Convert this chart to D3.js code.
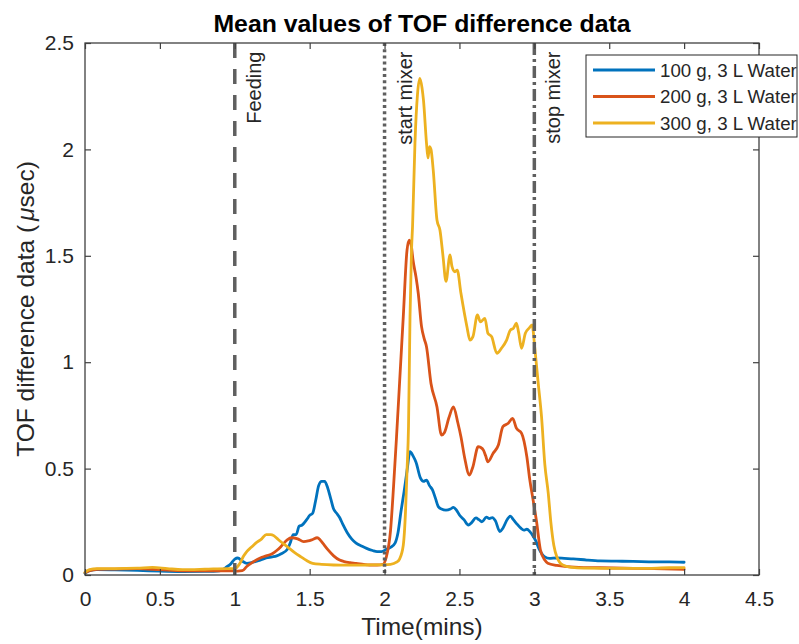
<!DOCTYPE html>
<html>
<head>
<meta charset="utf-8">
<script src="https://cdn.jsdelivr.net/npm/d3@7"></script>
<style>
  html, body { margin: 0; padding: 0; background: #fff; }
  svg { display: block; font-family: "Liberation Sans", Arial, Helvetica, sans-serif; }
</style>
</head>
<body>
<svg id="chart" width="799" height="644"></svg>
<script>
// Time (min) / mean TOF difference (µsec) pairs for each run
const run100 = [[0,0.008],[0.03,0.02],[0.08,0.025],[0.2,0.024],[0.35,0.022],[0.5,0.018],[0.65,0.016],[0.8,0.017],[0.9,0.02],[0.95,0.04],[0.97,0.05],[1.0,0.075],[1.02,0.08],[1.05,0.065],[1.08,0.055],[1.12,0.06],[1.17,0.07],[1.21,0.08],[1.25,0.085],[1.28,0.09],[1.31,0.1],[1.35,0.12],[1.37,0.15],[1.39,0.19],[1.41,0.19],[1.43,0.23],[1.45,0.235],[1.48,0.26],[1.50,0.28],[1.52,0.29],[1.54,0.35],[1.56,0.42],[1.58,0.44],[1.60,0.44],[1.62,0.41],[1.64,0.36],[1.66,0.31],[1.68,0.29],[1.70,0.27],[1.72,0.24],[1.75,0.2],[1.78,0.17],[1.81,0.15],[1.85,0.135],[1.88,0.125],[1.92,0.115],[1.95,0.11],[1.98,0.11],[2.01,0.12],[2.04,0.13],[2.07,0.15],[2.09,0.2],[2.11,0.3],[2.13,0.39],[2.15,0.49],[2.17,0.58],[2.19,0.56],[2.21,0.53],[2.24,0.455],[2.26,0.44],[2.28,0.446],[2.30,0.42],[2.32,0.4],[2.34,0.36],[2.36,0.32],[2.38,0.31],[2.41,0.305],[2.44,0.31],[2.46,0.318],[2.48,0.305],[2.50,0.282],[2.53,0.26],[2.56,0.235],[2.58,0.245],[2.61,0.268],[2.63,0.26],[2.65,0.25],[2.68,0.272],[2.70,0.265],[2.72,0.27],[2.74,0.255],[2.77,0.204],[2.79,0.22],[2.82,0.262],[2.84,0.277],[2.86,0.26],[2.88,0.243],[2.91,0.22],[2.93,0.211],[2.95,0.215],[2.97,0.204],[2.99,0.185],[3.01,0.16],[3.03,0.125],[3.05,0.1],[3.07,0.085],[3.10,0.078],[3.15,0.08],[3.2,0.078],[3.26,0.076],[3.35,0.07],[3.44,0.066],[3.55,0.065],[3.66,0.064],[3.8,0.062],[3.9,0.062],[4.0,0.06]];

const run200 = [[0,0.01],[0.03,0.02],[0.08,0.027],[0.2,0.028],[0.35,0.03],[0.5,0.025],[0.65,0.02],[0.8,0.02],[0.95,0.02],[1.02,0.018],[1.05,0.02],[1.08,0.04],[1.12,0.06],[1.17,0.08],[1.21,0.09],[1.25,0.1],[1.28,0.115],[1.31,0.135],[1.35,0.165],[1.38,0.175],[1.42,0.17],[1.46,0.157],[1.49,0.16],[1.52,0.167],[1.55,0.175],[1.57,0.165],[1.59,0.147],[1.62,0.12],[1.66,0.09],[1.70,0.07],[1.73,0.063],[1.77,0.058],[1.81,0.055],[1.86,0.05],[1.90,0.047],[1.95,0.047],[1.99,0.05],[2.01,0.08],[2.04,0.21],[2.06,0.415],[2.08,0.65],[2.10,0.9],[2.125,1.214],[2.15,1.527],[2.165,1.574],[2.18,1.54],[2.19,1.48],[2.21,1.4],[2.225,1.324],[2.247,1.167],[2.265,1.11],[2.28,1.073],[2.31,0.90],[2.35,0.79],[2.38,0.658],[2.40,0.67],[2.43,0.74],[2.46,0.79],[2.49,0.713],[2.51,0.65],[2.535,0.55],[2.566,0.47],[2.59,0.509],[2.625,0.603],[2.64,0.6],[2.66,0.587],[2.675,0.56],[2.69,0.532],[2.725,0.572],[2.76,0.611],[2.79,0.697],[2.826,0.713],[2.855,0.736],[2.88,0.69],[2.915,0.666],[2.95,0.556],[2.97,0.446],[2.99,0.36],[3.015,0.25],[3.04,0.12],[3.07,0.07],[3.09,0.055],[3.15,0.045],[3.22,0.039],[3.33,0.035],[3.44,0.034],[3.6,0.032],[3.8,0.03],[4.0,0.027]];

const run300 = [[0,0.012],[0.03,0.025],[0.08,0.03],[0.2,0.03],[0.35,0.032],[0.45,0.036],[0.55,0.03],[0.65,0.025],[0.8,0.027],[0.95,0.03],[1.0,0.03],[1.03,0.05],[1.06,0.09],[1.08,0.11],[1.11,0.13],[1.14,0.15],[1.18,0.17],[1.21,0.19],[1.24,0.19],[1.26,0.185],[1.28,0.173],[1.31,0.155],[1.35,0.133],[1.40,0.105],[1.44,0.086],[1.48,0.068],[1.52,0.055],[1.58,0.05],[1.66,0.047],[1.75,0.046],[1.88,0.047],[1.98,0.048],[2.04,0.05],[2.08,0.06],[2.10,0.075],[2.125,0.14],[2.14,0.3],[2.15,0.49],[2.16,0.7],[2.17,1.214],[2.18,1.527],[2.187,1.64],[2.203,2.03],[2.22,2.26],[2.236,2.334],[2.25,2.29],[2.26,2.23],[2.28,2.03],[2.29,1.96],[2.30,2.013],[2.31,2.0],[2.325,1.903],[2.35,1.668],[2.37,1.62],[2.39,1.5],[2.41,1.38],[2.437,1.504],[2.45,1.45],[2.47,1.425],[2.485,1.433],[2.51,1.324],[2.55,1.167],[2.57,1.104],[2.59,1.12],[2.62,1.222],[2.64,1.19],[2.67,1.206],[2.69,1.136],[2.715,1.12],[2.75,1.042],[2.78,1.065],[2.815,1.104],[2.84,1.151],[2.86,1.159],[2.88,1.183],[2.895,1.14],[2.915,1.065],[2.94,1.136],[2.965,1.16],[2.985,1.175],[3.004,1.06],[3.026,0.90],[3.048,0.744],[3.07,0.52],[3.093,0.384],[3.11,0.25],[3.13,0.14],[3.15,0.086],[3.19,0.047],[3.25,0.036],[3.33,0.032],[3.5,0.031],[3.7,0.031],[3.9,0.034],[4.0,0.035]];

const seriesNames = ["100 g, 3 L Water", "200 g, 3 L Water", "300 g, 3 L Water"];
const seriesColors = ["#0072BD", "#D95319", "#EDB120"];

// Process events (time in min)
const events = [
  { t: 1, label: "Feeding", dash: "15,11", offset: 26 },
  { t: 2, label: "start mixer", dash: "3,3.2", offset: 27 },
  { t: 3, label: "stop mixer", dash: "12,4,3,4", offset: 26 }
];

const xTicks = [0, 0.5, 1, 1.5, 2, 2.5, 3, 3.5, 4, 4.5];
const yTicks = [0, 0.5, 1, 1.5, 2, 2.5];

const svg = d3.select("#chart");
const plot = { left: 85, top: 43, right: 759, bottom: 575 };

const x = d3.scaleLinear().domain([0, 4.5]).range([plot.left, plot.right]);
const y = d3.scaleLinear().domain([0, 2.5]).range([plot.bottom, plot.top]);

const axisColor = "#404040";
const textColor = "#262626";
const fmt = d => String(d);

// Data curves
const line = d3.line()
  .x(d => x(d[0]))
  .y(d => y(d[1]))
  .curve(d3.curveMonotoneX);

[run100, run200, run300].forEach((run, i) => {
  svg.append("path")
    .datum(run)
    .attr("d", line)
    .attr("fill", "none")
    .attr("stroke", seriesColors[i])
    .attr("stroke-width", 2.8)
    .attr("stroke-linejoin", "round")
    .attr("stroke-linecap", "round");
});

// Event markers and their rotated labels
events.forEach(ev => {
  svg.append("line")
    .attr("x1", x(ev.t)).attr("x2", x(ev.t))
    .attr("y1", y(2.5)).attr("y2", y(0))
    .attr("stroke", "#5f5f5f")
    .attr("stroke-width", 3.5)
    .attr("stroke-dasharray", ev.dash);
  svg.append("text")
    .attr("transform", `translate(${x(ev.t) + ev.offset},${y(2.46)}) rotate(-90)`)
    .attr("text-anchor", "end")
    .attr("font-size", 20)
    .attr("fill", textColor)
    .text(ev.label);
});

// Axes box with inward ticks
const gx = svg.append("g")
  .attr("transform", `translate(0,${plot.bottom})`)
  .call(d3.axisBottom(x).tickValues(xTicks).tickFormat(fmt).tickSizeInner(-6).tickSizeOuter(0).tickPadding(16));
const gxTop = svg.append("g")
  .attr("transform", `translate(0,${plot.top})`)
  .call(d3.axisTop(x).tickValues(xTicks).tickFormat("").tickSizeInner(-6).tickSizeOuter(0));
const gy = svg.append("g")
  .attr("transform", `translate(${plot.left},0)`)
  .call(d3.axisLeft(y).tickValues(yTicks).tickFormat(fmt).tickSizeInner(-6).tickSizeOuter(0).tickPadding(11));
const gyRight = svg.append("g")
  .attr("transform", `translate(${plot.right},0)`)
  .call(d3.axisRight(y).tickValues(yTicks).tickFormat("").tickSizeInner(-6).tickSizeOuter(0));

[gx, gxTop, gy, gyRight].forEach(g => {
  g.select(".domain").remove();
  g.selectAll(".tick line").attr("stroke", axisColor).attr("stroke-width", 1.2);
  g.selectAll(".tick text")
    .attr("fill", textColor)
    .attr("font-size", 21)
    .attr("font-family", "'Liberation Sans', Arial, sans-serif");
});

svg.append("rect")
  .attr("x", plot.left).attr("y", plot.top)
  .attr("width", plot.right - plot.left)
  .attr("height", plot.bottom - plot.top)
  .attr("fill", "none")
  .attr("stroke", axisColor)
  .attr("stroke-width", 1.3);

// Title and axis labels
svg.append("text")
  .attr("x", (plot.left + plot.right) / 2)
  .attr("y", 32)
  .attr("text-anchor", "middle")
  .attr("font-size", 24.8)
  .attr("font-weight", "bold")
  .attr("fill", "#000")
  .text("Mean values of TOF difference data");

svg.append("text")
  .attr("x", (plot.left + plot.right) / 2)
  .attr("y", 635)
  .attr("text-anchor", "middle")
  .attr("font-size", 24.5)
  .attr("fill", textColor)
  .text("Time(mins)");

const yl = svg.append("text")
  .attr("transform", `translate(34,${(plot.top + plot.bottom) / 2}) rotate(-90)`)
  .attr("text-anchor", "middle")
  .attr("font-size", 24.5)
  .attr("fill", textColor);
yl.append("tspan").text("TOF difference data (");
yl.append("tspan").attr("dx", 4).attr("font-style", "italic").text("\u03bc");
yl.append("tspan").text("sec)");

// Legend
const legend = svg.append("g");
legend.append("rect")
  .attr("x", 586).attr("y", 55)
  .attr("width", 211).attr("height", 82)
  .attr("fill", "#fff")
  .attr("stroke", "#262626")
  .attr("stroke-width", 1);
seriesNames.forEach((name, i) => {
  const ly = 70 + i * 26.5;
  legend.append("line")
    .attr("x1", 593).attr("x2", 655)
    .attr("y1", ly).attr("y2", ly)
    .attr("stroke", seriesColors[i])
    .attr("stroke-width", 2.8);
  legend.append("text")
    .attr("x", 660).attr("y", ly)
    .attr("dy", "0.35em")
    .attr("font-size", 18.7)
    .attr("fill", textColor)
    .text(name);
});
</script>
</body>
</html>
